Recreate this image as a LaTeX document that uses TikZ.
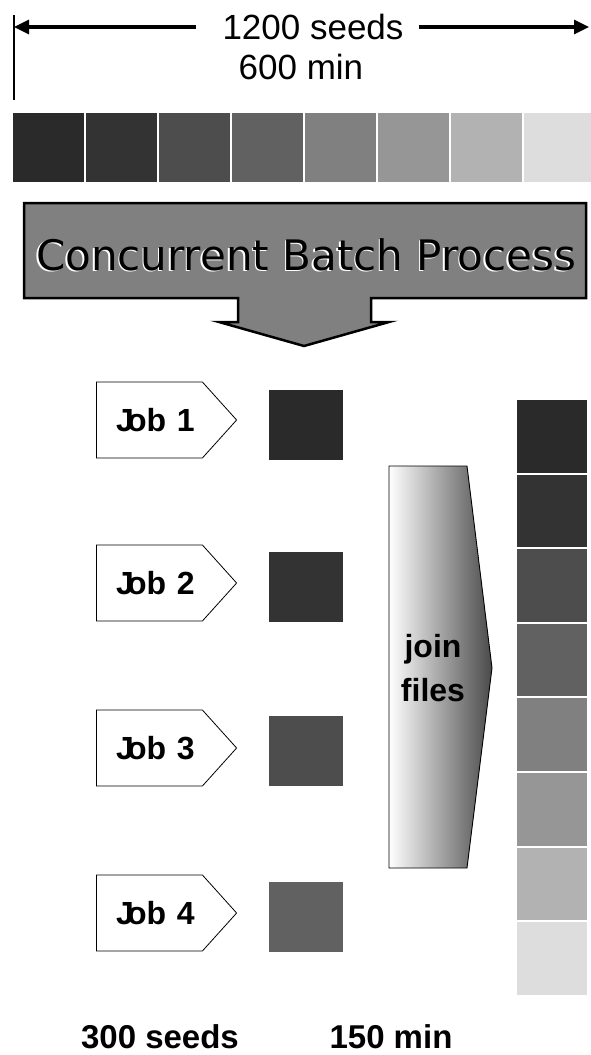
\documentclass[tikz,border=0pt]{standalone}
\usepackage{fontspec}
\setmainfont{Liberation Sans}
\newfontfamily\titlefont{DejaVu Sans}
\usetikzlibrary{arrows.meta,shapes.symbols,positioning}

\definecolor{shadeA}{HTML}{2A2A2A}
\definecolor{shadeB}{HTML}{333333}
\definecolor{shadeC}{HTML}{4D4D4D}
\definecolor{shadeD}{HTML}{616161}
\definecolor{shadeE}{HTML}{808080}
\definecolor{shadeF}{HTML}{969696}
\definecolor{shadeG}{HTML}{B2B2B2}
\definecolor{shadeH}{HTML}{DDDDDD}
\definecolor{joindark}{HTML}{4A4A4A}

\newcommand{\joblabel}[1]{\hspace*{12pt}J\kern-7pt ob #1}

\tikzset{
  toparrow/.style={line width=3.2pt,-{Triangle[length=15pt,width=14pt]}},
  bigtext/.style={font=\fontsize{35}{42}\selectfont,inner xsep=0pt},
  boldtext/.style={font=\fontsize{32}{44}\selectfont\bfseries},
  stripsq/.style={draw=white,line width=1pt,minimum width=72pt,minimum height=70pt,inner sep=0pt},
  colsq/.style={draw=white,line width=1pt,minimum width=71pt,minimum height=73.6pt,inner sep=0pt},
  jobsq/.style={minimum width=74pt,minimum height=70pt,inner sep=0pt},
  jobbox/.style={shape=signal,signal to=east,signal pointer angle=96,draw,line width=0.8pt,
    fill=white,text width=106pt,align=center,inner xsep=0pt,minimum height=76pt,boldtext},
}

\begin{document}
\begin{tikzpicture}[x=1pt,y=-1pt]
  \useasboundingbox (0,0) rectangle (590,1055);

  % total run
  \coordinate (tickt) at (14,15);
  \coordinate (tickb) at (14,100);
  \draw[line width=1.2pt] (tickt) -- (tickb);
  \coordinate (lend) at (14,27);
  \coordinate (rend) at (589,27);
  \node[bigtext,anchor=base] (seeds) at (313,39) {1200 seeds};
  \node[bigtext,anchor=base] (mins) at (301,79) {600 min};
  \draw[toparrow,shorten <=26pt] (seeds.west |- lend) -- (lend);
  \draw[toparrow,shorten <=15pt] (seeds.east |- rend) -- (rend);

  % whole file
  \node[stripsq,fill=shadeA,anchor=north west] (st1) at (12,112) {};
  \node[stripsq,fill=shadeB,right=0pt of st1] (st2) {};
  \node[stripsq,fill=shadeC,right=0pt of st2] (st3) {};
  \node[stripsq,fill=shadeD,right=0pt of st3] (st4) {};
  \node[stripsq,fill=shadeE,right=0pt of st4] (st5) {};
  \node[stripsq,fill=shadeF,right=0pt of st5] (st6) {};
  \node[stripsq,fill=shadeG,right=0pt of st6] (st7) {};
  \node[stripsq,fill=shadeH,right=0pt of st7] (st8) {};

  % batch arrow
  \draw[fill=shadeE,line width=2.5pt,line join=miter]
    (24,203) -- (586,203) -- (586,298) -- (371,298) -- (371,322) -- (389,322)
    -- (304,346) -- (219,322) -- (238,322) -- (238,298) -- (24,298) -- cycle;
  \node[font=\titlefont\fontsize{42}{48}\selectfont,text=white,anchor=base] (batchshadow) at (304.5,271.5) {Concurrent Batch Process};
  \node[font=\titlefont\fontsize{42}{48}\selectfont,anchor=base] (batch) at (306,270) {Concurrent Batch Process};

  % jobs
  \node[jobbox,anchor=west] (job1) at (96,420) {\joblabel{1}};
  \node[jobbox,anchor=west] (job2) at (96,583) {\joblabel{2}};
  \node[jobbox,anchor=west] (job3) at (96,748) {\joblabel{3}};
  \node[jobbox,anchor=west] (job4) at (96,913) {\joblabel{4}};
  \node[jobsq,fill=shadeA,right=32pt of job1,yshift=-5pt] (out1) {};
  \node[jobsq,fill=shadeB,right=32pt of job2,yshift=-4pt] (out2) {};
  \node[jobsq,fill=shadeC,right=32pt of job3,yshift=-3pt] (out3) {};
  \node[jobsq,fill=shadeD,right=32pt of job4,yshift=-4pt] (out4) {};

  % join step
  \draw[left color=white,right color=joindark,line width=0.9pt]
    (389,466) -- (467,466) -- (492,668) -- (467,868) -- (389,868) -- cycle;
  \node[boldtext,align=center] (join) at (433,668) {join\\files};

  % joined file
  \node[colsq,fill=shadeA,anchor=north west] (col1) at (516,399) {};
  \node[colsq,fill=shadeB,below=0pt of col1] (col2) {};
  \node[colsq,fill=shadeC,below=0pt of col2] (col3) {};
  \node[colsq,fill=shadeD,below=0pt of col3] (col4) {};
  \node[colsq,fill=shadeE,below=0pt of col4] (col5) {};
  \node[colsq,fill=shadeF,below=0pt of col5] (col6) {};
  \node[colsq,fill=shadeG,below=0pt of col6] (col7) {};
  \node[colsq,fill=shadeH,below=0pt of col7] (col8) {};

  % per job
  \node[font=\fontsize{33}{40}\selectfont\bfseries,anchor=base] (jobseeds) at (160,1048) {300 seeds};
  \node[font=\fontsize{33}{40}\selectfont\bfseries,anchor=base] (jobmins) at (391,1048) {150 min};
\end{tikzpicture}
\end{document}
